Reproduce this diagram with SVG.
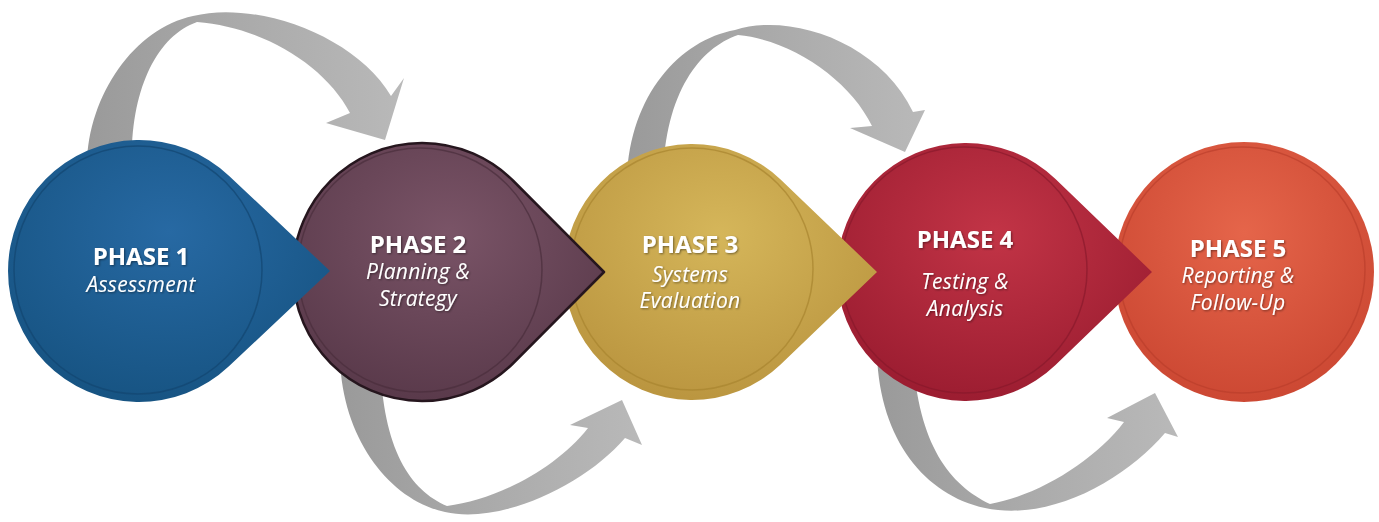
<svg xmlns="http://www.w3.org/2000/svg" width="1379" height="522" viewBox="0 0 1379 522">
<style>
.arrow{fill:url(#arrowGrad);}
.t{font-family:"Open Sans","Liberation Sans",sans-serif;fill:#ffffff;text-anchor:middle;filter:url(#tshadow);}
.h{font-weight:bold;font-size:24px;}
.s{font-style:italic;font-size:21px;letter-spacing:0.3px;}
.rim{fill:none;stroke-width:1.5;}
</style>
<defs>
<linearGradient id="arrowGrad" x1="0" y1="0" x2="1" y2="0">
<stop offset="0" stop-color="#9a9a9a"/>
<stop offset="0.45" stop-color="#a9a9a9"/>
<stop offset="1" stop-color="#b9b9b9"/>
</linearGradient>
<radialGradient id="g1" cx="0.5" cy="0.35" r="0.65">
<stop offset="0" stop-color="#2769a3"/>
<stop offset="1" stop-color="#175483"/>
</radialGradient>
<radialGradient id="g2" cx="0.5" cy="0.35" r="0.65">
<stop offset="0" stop-color="#7a5467"/>
<stop offset="1" stop-color="#5a3a4b"/>
</radialGradient>
<radialGradient id="g3" cx="0.5" cy="0.35" r="0.65">
<stop offset="0" stop-color="#d5b65a"/>
<stop offset="1" stop-color="#bb9640"/>
</radialGradient>
<radialGradient id="g4" cx="0.5" cy="0.35" r="0.65">
<stop offset="0" stop-color="#c23446"/>
<stop offset="1" stop-color="#9c1d31"/>
</radialGradient>
<radialGradient id="g5" cx="0.5" cy="0.35" r="0.65">
<stop offset="0" stop-color="#e5654a"/>
<stop offset="1" stop-color="#cc4833"/>
</radialGradient>
<filter id="tshadow" x="-20%" y="-40%" width="140%" height="180%">
<feDropShadow dx="1" dy="1" stdDeviation="1" flood-color="#000000" flood-opacity="0.45"/>
</filter>
</defs>

<g id="connectors">
<path class="arrow" d="M 87,165 C 88,95 135,28 193,16 C 255,0 355,35 391,96 L 404,78 L 385,140 L 326,123 L 350,113 C 325,65 262,27 197,22 C 157,36 130,90 132,165 Z"/>
<path class="arrow" d="M 627,178 C 630,95 680,40 735,30 C 790,12 880,42 913,112 L 925,110 L 905,152 L 850,128 L 872,126 C 850,80 792,40 738,35 C 700,48 665,92 663,178 Z"/>
<path class="arrow" d="M 340,360 C 343,440 390,500 445,512 C 500,525 585,485 625,438 L 642,445 L 622,400 L 570,425 L 588,428 C 555,470 495,500 447,506 C 410,490 383,450 380,360 Z"/>
<path class="arrow" d="M 877,355 C 880,440 925,495 985,508 C 1050,522 1125,480 1165,433 L 1178,437 L 1155,393 L 1107,418 L 1124,422 C 1095,460 1040,495 990,504 C 950,485 918,445 913,355 Z"/>
</g>

<g id="phase5">
<circle cx="1244" cy="272" r="130" fill="url(#g5)"/>
<circle class="rim" cx="1242" cy="270" r="123" stroke="#b83c2a" stroke-opacity="0.6"/>
<text class="t h" x="1238" y="257">PHASE 5</text>
<text class="t s" x="1238" y="283">Reporting &amp;</text>
<text class="t s" x="1238" y="310">Follow-Up</text>
</g>

<g id="phase4">
<path d="M 1152,272 L 1055.5,179.1 A 129,129 0 1 0 1055.5,364.9 Z" fill="url(#g4)"/>
<circle class="rim" cx="964" cy="270" r="123" stroke="#84182a" stroke-opacity="0.6"/>
<text class="t h" x="965" y="248">PHASE 4</text>
<text class="t s" x="965" y="289">Testing &amp;</text>
<text class="t s" x="965" y="316">Analysis</text>
</g>

<g id="phase3">
<path d="M 877,272 L 780.6,179.6 A 128,128 0 1 0 780.6,364.4 Z" fill="url(#g3)"/>
<circle class="rim" cx="692" cy="269" r="121" stroke="#a8842f" stroke-opacity="0.7"/>
<text class="t h" x="690" y="253">PHASE 3</text>
<text class="t s" x="690" y="282">Systems</text>
<text class="t s" x="690" y="308">Evaluation</text>
</g>

<g id="phase2">
<path d="M 604,272 L 513.4,181 A 129,129 0 1 0 513.4,363 Z" fill="url(#g2)" stroke="#26161e" stroke-width="2.5" stroke-linejoin="round"/>
<circle class="rim" cx="420" cy="270" r="122" stroke="#4a2e3c" stroke-opacity="0.7"/>
<text class="t h" x="418" y="253">PHASE 2</text>
<text class="t s" x="418" y="279">Planning &amp;</text>
<text class="t s" x="418" y="306">Strategy</text>
</g>

<g id="phase1">
<path d="M 330,271 L 228.9,175.7 A 131,131 0 1 0 228.9,366.3 Z" fill="url(#g1)"/>
<circle class="rim" cx="138" cy="270" r="124" stroke="#124670" stroke-opacity="0.7"/>
<text class="t h" x="141" y="265">PHASE 1</text>
<text class="t s" x="141" y="292">Assessment</text>
</g>
</svg>
